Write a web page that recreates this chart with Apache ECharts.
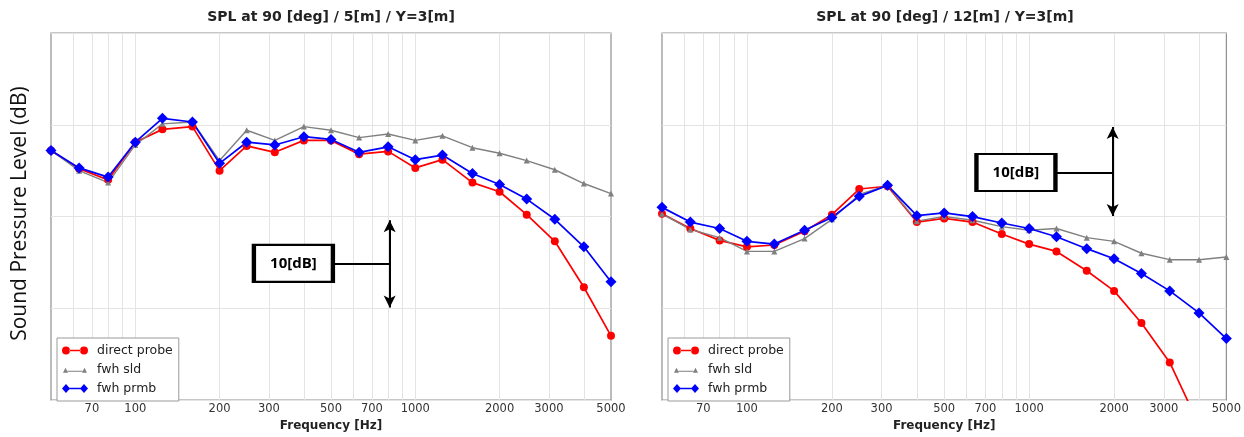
<!DOCTYPE html>
<html>
<head>
<meta charset="utf-8">
<script src="https://cdn.jsdelivr.net/npm/echarts@6/dist/echarts.min.js"></script>
<style>
  html, body { margin: 0; padding: 0; background: #fff; }
  #chart { width: 1244px; height: 437px; }
</style>
</head>
<body>
<div id="chart"></div>
<script>
// 1/3-octave band centre frequencies [Hz]
const freqs = [50, 63, 80, 100, 125, 160, 200, 250, 315, 400, 500, 630, 800, 1000, 1250, 1600, 2000, 2500, 3150, 4000, 5000];

// Left panel: SPL at 90 [deg] / 5[m] / Y=3[m]
const directL = [67.2, 65.2, 64.0, 68.1, 69.5, 69.8, 65.0, 67.7, 67.0, 68.3, 68.3, 66.8, 67.1, 65.3, 66.2, 63.7, 62.7, 60.2, 57.3, 52.3, 47.0];
const sldL    = [67.2, 65.0, 63.7, 67.8, 70.1, 70.3, 66.1, 69.4, 68.3, 69.8, 69.4, 68.6, 69.0, 68.3, 68.8, 67.5, 66.9, 66.1, 65.1, 63.6, 62.5];
const prmbL   = [67.2, 65.3, 64.3, 68.1, 70.7, 70.3, 65.8, 68.1, 67.8, 68.7, 68.4, 67.0, 67.6, 66.2, 66.7, 64.7, 63.5, 61.9, 59.7, 56.7, 52.9];

// Right panel: SPL at 90 [deg] / 12[m] / Y=3[m]
const directR = [60.3, 58.7, 57.4, 56.7, 56.9, 58.4, 60.2, 63.0, 63.3, 59.4, 59.8, 59.4, 58.1, 57.0, 56.2, 54.1, 51.9, 48.4, 44.1, 37.3, 30.0];
const sldR    = [60.3, 58.6, 57.7, 56.2, 56.2, 57.6, 59.7, 62.4, 63.4, 59.5, 60.0, 59.6, 58.9, 58.5, 58.7, 57.7, 57.3, 56.0, 55.3, 55.3, 55.6];
const prmbR   = [61.0, 59.4, 58.7, 57.3, 57.0, 58.5, 59.9, 62.2, 63.4, 60.1, 60.4, 60.0, 59.3, 58.7, 57.8, 56.5, 55.4, 53.8, 51.9, 49.5, 46.7];

// Axis tick labels and grid-line positions
const xTickLabels = [70, 100, 200, 300, 500, 700, 1000, 2000, 3000, 5000];
const xGridValues = [60, 70, 80, 90, 100, 200, 300, 400, 500, 600, 700, 800, 900, 1000, 2000, 3000, 4000];
const seriesNames = ['direct probe', 'fwh sld', 'fwh prmb'];
const titles = ['SPL at 90 [deg] / 5[m] / Y=3[m]', 'SPL at 90 [deg] / 12[m] / Y=3[m]'];

// 10[dB] scale annotations (data coordinates)
const scaleBarL = { f: 810, lo: 50.1, hi: 59.6, boxF: 367, boxV: 54.9, lineF: 508 };
const scaleBarR = { f: 1977, lo: 60.05, hi: 69.76, boxF: 898, boxV: 64.8, lineF: 1244 };

const pairs = a => freqs.map((f, i) => [f, a[i]]);

const FONT = 'DejaVu Sans';
const colors = { direct: '#ff0000', sld: '#808080', prmb: '#0000ff' };

function xAxisFor(idx) {
  return {
    type: 'log', logBase: 10, min: 50, max: 5000, gridIndex: idx,
    name: 'Frequency [Hz]', nameLocation: 'middle', nameGap: 17,
    nameTextStyle: { fontFamily: FONT, fontWeight: 'bold', fontSize: 12, color: '#222' },
    axisLine: { show: false },
    axisTick: { show: false, customValues: xGridValues },
    axisLabel: { customValues: xTickLabels, fontFamily: FONT, fontSize: 11.5, color: '#333', margin: 3,
                 formatter: v => String(Math.round(v)) },
    splitLine: { show: true, lineStyle: { color: '#e4e4e4', width: 1 } },
    minorTick: { show: false }, minorSplitLine: { show: false }
  };
}
function yAxisFor(idx) {
  const ax = {
    type: 'value', min: 40, max: 80, interval: 10, gridIndex: idx,
    axisLine: { show: false }, axisTick: { show: false }, axisLabel: { show: false },
    splitLine: { show: true, lineStyle: { color: '#e4e4e4', width: 1 } }
  };
  if (idx === 0) {
    ax.name = 'Sound Pressure Level (dB)';
    ax.nameLocation = 'middle';
    ax.nameRotate = 90;
    ax.nameGap = 20;
    ax.nameTextStyle = { fontFamily: 'Open Sans', fontSize: 21, color: '#111', padding: [0, 0, 0, 6] };
  }
  return ax;
}
function annotation(bar) {
  return {
    markLine: {
      silent: true, animation: false,
      symbol: ['arrow', 'arrow'], symbolSize: [9, 12],
      lineStyle: { color: '#000', width: 2, type: 'solid' },
      label: { show: false },
      emphasis: { disabled: true },
      data: [
        [{ coord: [bar.f, bar.lo] }, { coord: [bar.f, bar.hi] }],
        [{ coord: [bar.lineF, bar.boxV], symbol: 'none' }, { coord: [bar.f, bar.boxV], symbol: 'none' }]
      ]
    },
    markPoint: {
      silent: true, animation: false,
      symbol: 'rect', symbolSize: [79, 37],
      itemStyle: { color: '#fff', borderColor: '#000', borderWidth: 3 },
      label: { show: true, position: 'inside', formatter: '10[dB]', color: '#000',
               fontFamily: 'Open Sans', fontWeight: 'bold', fontSize: 15 },
      data: [{ coord: [bar.boxF, bar.boxV] }]
    }
  };
}
function seriesFor(idx, d, s, p, bar) {
  const base = { type: 'line', xAxisIndex: idx, yAxisIndex: idx, animation: false, clip: true, z: 3 };
  return [
    Object.assign({}, base, { name: seriesNames[0], data: pairs(d), symbol: 'circle', symbolSize: 8,
      lineStyle: { color: colors.direct, width: 1.7 }, itemStyle: { color: colors.direct } }),
    Object.assign({}, base, { name: seriesNames[1], data: pairs(s), symbol: 'triangle', symbolSize: 6,
      lineStyle: { color: colors.sld, width: 1.4 }, itemStyle: { color: colors.sld } }),
    Object.assign({}, base, { name: seriesNames[2], data: pairs(p), symbol: 'diamond', symbolSize: 11,
      lineStyle: { color: colors.prmb, width: 1.7 }, itemStyle: { color: colors.prmb } }, annotation(bar))
  ];
}
const icons = [
  'path://M0,4.5a4,4 0 1,0 8,0a4,4 0 1,0 -8,0Z M18,4.5a4,4 0 1,0 8,0a4,4 0 1,0 -8,0Z M7.5,3.7H18.5V5.3H7.5Z',
  'path://M1,8L3.5,3L6,8Z M20,8L22.5,3L25,8Z M5.5,6.1H20.5V6.9H5.5Z M0,0.5H0.01V0.51H0Z M26,8.99H26.01V9H26Z',
  'path://M0,4.5L4,0L8,4.5L4,9Z M18,4.5L22,0L26,4.5L22,9Z M7.5,3.7H18.5V5.3H7.5Z'
];
function legendFor(left) {
  return {
    orient: 'vertical', left: left, top: 338,
    backgroundColor: '#fff', borderColor: '#9a9a9a', borderWidth: 1, borderRadius: 0,
    padding: [6, 6, 6, 5], itemGap: 6, itemWidth: 26, itemHeight: 9,
    selectedMode: false,
    textStyle: { fontFamily: FONT, fontSize: 12.5, color: '#222', padding: [0, 0, 0, 4] },
    data: seriesNames.map((n, i) => ({ name: n, icon: icons[i] }))
  };
}

const chart = echarts.init(document.getElementById('chart'), null, { renderer: 'canvas' });
chart.setOption({
  backgroundColor: '#fff',
  animation: false,
  title: [
    { text: titles[0], left: 331, top: 10, padding: 0, textAlign: 'center',
      textStyle: { fontFamily: FONT, fontWeight: 'bold', fontSize: 14, color: '#222' } },
    { text: titles[1], left: 945, top: 10, padding: 0, textAlign: 'center',
      textStyle: { fontFamily: FONT, fontWeight: 'bold', fontSize: 14, color: '#222' } }
  ],
  grid: [
    { left: 51, right: 633, top: 33, bottom: 33, show: true, borderColor: '#8f8f8f', borderWidth: 1.2, backgroundColor: '#fff' },
    { left: 662, right: 16, top: 33, bottom: 33, show: true, borderColor: '#8f8f8f', borderWidth: 1.2, backgroundColor: '#fff' }
  ],
  xAxis: [xAxisFor(0), xAxisFor(1)],
  yAxis: [yAxisFor(0), yAxisFor(1)],
  legend: [legendFor(57), legendFor(668)],
  series: [].concat(
    seriesFor(0, directL, sldL, prmbL, scaleBarL),
    seriesFor(1, directR, sldR, prmbR, scaleBarR)
  )
});
</script>
</body>
</html>
